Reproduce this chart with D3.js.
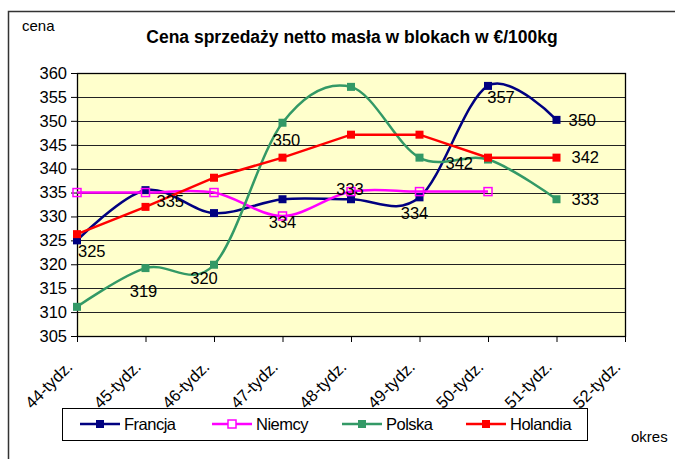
<!DOCTYPE html>
<meta charset="utf-8">
<style>
body { margin: 0; background: #fff; }
svg text { font-family: Arial, "Liberation Sans", sans-serif; fill: #000; }
.axis text { font-size: 16.5px; }
.axis path, .axis line { stroke: #000; }
</style>
<svg width="675" height="459"></svg>
<script src="https://d3js.org/d3.v7.min.js"></script>
<script>

var weeks = ["44-tydz.", "45-tydz.", "46-tydz.", "47-tydz.", "48-tydz.", "49-tydz.", "50-tydz.", "51-tydz.", "52-tydz."];
var francja  = [325, 335.5, 330.7, 333.6, 333.6, 334, 357.3, 350.2];
var niemcy   = [335, 335, 335, 330.1, 335.2, 335.2, 335.2];
var polska   = [311.1, 319.2, 319.9, 349.6, 357.1, 342.3, 341.9, 333.6];
var holandia = [326.3, 332, 338.1, 342.3, 347.1, 347.1, 342.3, 342.3];
var yTicks = [305, 310, 315, 320, 325, 330, 335, 340, 345, 350, 355, 360];

// data labels: text, series, week index
var labelTexts  = ["325", "335", "319", "320", "350", "334", "333", "334", "342", "357", "350", "342", "333"];
var labelSeries = ["Francja", "Francja", "Polska", "Polska", "Polska", "Niemcy", "Niemcy", "Francja", "Polska", "Francja", "Francja", "Holandia", "Polska"];
var labelWeek   = [0, 1, 1, 2, 3, 3, 4, 5, 5, 6, 7, 7, 7];

var series = [
  {name: "Francja",  values: francja,  color: "#000080", hollow: false, smooth: true},
  {name: "Niemcy",   values: niemcy,   color: "#FF00FF", hollow: true,  smooth: true},
  {name: "Polska",   values: polska,   color: "#339966", hollow: false, smooth: true},
  {name: "Holandia", values: holandia, color: "#FF0000", hollow: false, smooth: false}
];

var svg = d3.select("svg");

// outer chart frame (runs off the right and bottom of the picture)
svg.append("path")
    .attr("d", "M8.5,470 L8.5,11.5 L680,11.5")
    .attr("fill", "none")
    .attr("stroke", "#333")
    .attr("stroke-width", 1.5);

var pLeft = 77, pRight = 625, pTop = 73, pBottom = 336;

var x = d3.scalePoint().domain(weeks).range([pLeft, pRight]);
var y = d3.scaleLinear().domain([305, 360]).range([pBottom, pTop]);

// plot background
svg.append("rect")
    .attr("x", pLeft).attr("y", pTop)
    .attr("width", pRight - pLeft).attr("height", pBottom - pTop)
    .attr("fill", "#FFFFCC");

// gridlines
svg.append("g").selectAll("line")
    .data(yTicks.slice(1))
    .join("line")
    .attr("x1", pLeft).attr("x2", pRight)
    .attr("y1", function(d) { return Math.round(y(d)) + 0.5; })
    .attr("y2", function(d) { return Math.round(y(d)) + 0.5; })
    .attr("stroke", "#222")
    .attr("stroke-width", 1);

svg.append("rect")
    .attr("x", pLeft + 0.5).attr("y", pTop + 0.5)
    .attr("width", pRight - pLeft).attr("height", pBottom - pTop)
    .attr("fill", "none")
    .attr("stroke", "#000")
    .attr("stroke-width", 1.3);

// y axis
svg.append("g")
    .attr("class", "axis")
    .attr("transform", "translate(" + pLeft + ",0)")
    .call(d3.axisLeft(y).tickValues(yTicks).tickSize(6).tickPadding(4).tickSizeOuter(0))
    .call(function(g) { g.select(".domain").remove(); });

// x axis
var xAxis = svg.append("g")
    .attr("class", "axis")
    .attr("transform", "translate(0," + pBottom + ")")
    .call(d3.axisBottom(x).tickSize(6).tickSizeOuter(0));
xAxis.select(".domain").remove();
xAxis.selectAll("text")
    .attr("text-anchor", "end")
    .attr("x", 0).attr("y", 0).attr("dy", 0)
    .attr("transform", "translate(-4,32) rotate(-45)");

// lines
var smoothLine = d3.line()
    .x(function(d, i) { return x(weeks[i]); })
    .y(function(d) { return y(d); })
    .curve(d3.curveCardinal.tension(0));
var straightLine = d3.line()
    .x(function(d, i) { return x(weeks[i]); })
    .y(function(d) { return y(d); });

series.forEach(function(s) {
  svg.append("path")
      .attr("d", (s.smooth ? smoothLine : straightLine)(s.values))
      .attr("fill", "none")
      .attr("stroke", s.color)
      .attr("stroke-width", 2.5);
});

// markers
var ms = 8;
series.forEach(function(s) {
  svg.append("g").selectAll("rect")
      .data(s.values)
      .join("rect")
      .attr("x", function(d, i) { return x(weeks[i]) - ms / 2; })
      .attr("y", function(d) { return y(d) - ms / 2; })
      .attr("width", ms).attr("height", ms)
      .attr("fill", s.hollow ? "none" : s.color)
      .attr("stroke", s.color)
      .attr("stroke-width", s.hollow ? 1.5 : 0);
});

// data labels
var labelDx = [1, 11, -2, -10, 4, 0, -1, -5, 26, 13, 12, 15, 15];
var labelDy = [11, 11, 23, 13, 17, 6, -2, 16, 6, 11, 0, 0, 0];
var labelAnchor = ["start", "start", "middle", "middle", "middle", "middle", "middle", "middle", "start", "middle", "start", "start", "start"];
var byName = {};
series.forEach(function(s) { byName[s.name] = s; });

svg.append("g").selectAll("text")
    .data(labelTexts)
    .join("text")
    .attr("x", function(d, i) { return x(weeks[labelWeek[i]]) + labelDx[i]; })
    .attr("y", function(d, i) { return y(byName[labelSeries[i]].values[labelWeek[i]]) + labelDy[i]; })
    .attr("dy", "0.35em")
    .attr("text-anchor", function(d, i) { return labelAnchor[i]; })
    .style("font-size", "16.5px")
    .text(function(d) { return d; });

// title & axis names
svg.append("text")
    .attr("x", 352).attr("y", 43)
    .attr("text-anchor", "middle")
    .style("font-size", "17.5px")
    .style("font-weight", "bold")
    .text("Cena sprzedaży netto masła w blokach w €/100kg");

svg.append("text")
    .attr("x", 22).attr("y", 31)
    .style("font-size", "15px")
    .text("cena");

svg.append("text")
    .attr("x", 631).attr("y", 442)
    .style("font-size", "15px")
    .text("okres");

// legend
svg.append("rect")
    .attr("x", 62.5).attr("y", 408.5)
    .attr("width", 525).attr("height", 32)
    .attr("fill", "#fff")
    .attr("stroke", "#000")
    .attr("stroke-width", 1);

var legendX = [80, 212, 342, 466];
var legend = svg.append("g").selectAll("g")
    .data(series)
    .join("g")
    .attr("transform", function(d, i) { return "translate(" + legendX[i] + ",424)"; });
legend.append("line")
    .attr("x1", 0).attr("x2", 40)
    .attr("stroke", function(d) { return d.color; })
    .attr("stroke-width", 2.5);
legend.append("rect")
    .attr("x", 20 - ms / 2).attr("y", -ms / 2)
    .attr("width", ms).attr("height", ms)
    .attr("fill", function(d) { return d.hollow ? "#fff" : d.color; })
    .attr("stroke", function(d) { return d.color; })
    .attr("stroke-width", function(d) { return d.hollow ? 1.5 : 0; });
legend.append("text")
    .attr("x", 44).attr("dy", "0.35em")
    .style("font-size", "16.5px")
    .style("letter-spacing", "-0.5px")
    .text(function(d) { return d.name; });

</script>
